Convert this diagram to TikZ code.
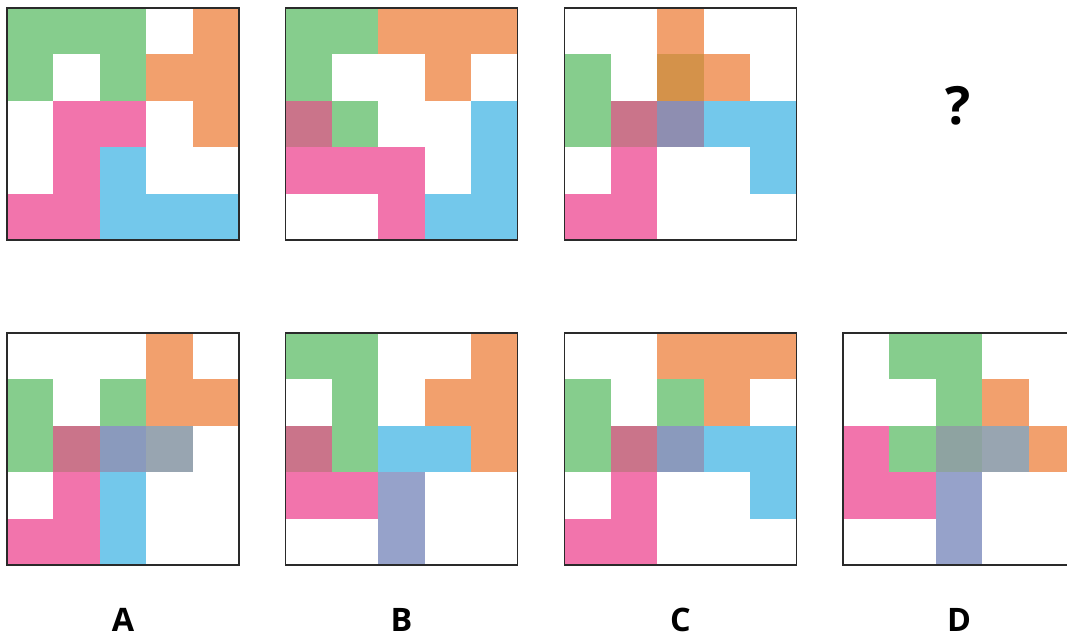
\documentclass[tikz,border=0pt]{standalone}
\usepackage{fontspec}
\setmainfont{Open Sans}
\usepackage{xcolor}
\usepackage{tikz}
\usetikzlibrary{positioning}
\definecolor{leaf}{HTML}{86CD8D}
\definecolor{peach}{HTML}{F2A06D}
\definecolor{rose}{HTML}{F274AC}
\definecolor{sky}{HTML}{73C8EB}
\definecolor{mauve}{HTML}{CA748A}
\definecolor{slate}{HTML}{8A9ABD}
\definecolor{steel}{HTML}{98A5B1}
\definecolor{lilac}{HTML}{96A2CA}
\definecolor{sage}{HTML}{8EA3A1}
\definecolor{amber}{HTML}{D4924A}
\definecolor{dusk}{HTML}{8E8EB1}
\definecolor{frameink}{HTML}{2A2A2A}

\newcommand{\tiles}[1]{%
  \foreach \rr/\cc/\tone in {#1}
    \fill[\tone] (\cc*\cs,-\rr*\cs) rectangle ++(\cs,-\cs);
  \draw[frame] (0,0) rectangle (5*\cs,-5*\cs);
}

\begin{document}
\begin{tikzpicture}[
    frame/.style={draw=frameink, line width=0.55pt},
    choice/.style={font=\fontsize{9.2}{11}\selectfont\bfseries, inner sep=0pt},
    query/.style={font=\fontsize{15}{18}\selectfont\bfseries, inner sep=0pt},
  ]
  \useasboundingbox[fill=white] (0,0) rectangle (10.67,-6.35);
  \def\cs{0.464}

  % question row
  \begin{scope}[shift={(0.07,-0.08)}]
    \tiles{0/0/leaf,0/1/leaf,0/2/leaf,0/4/peach,
      1/0/leaf,1/2/leaf,1/3/peach,1/4/peach,
      2/1/rose,2/2/rose,2/4/peach,
      3/1/rose,3/2/sky,
      4/0/rose,4/1/rose,4/2/sky,4/3/sky,4/4/sky}
  \end{scope}
  \begin{scope}[shift={(2.855,-0.08)}]
    \tiles{0/0/leaf,0/1/leaf,0/2/peach,0/3/peach,0/4/peach,
      1/0/leaf,1/3/peach,
      2/0/mauve,2/1/leaf,2/4/sky,
      3/0/rose,3/1/rose,3/2/rose,3/4/sky,
      4/2/rose,4/3/sky,4/4/sky}
  \end{scope}
  \begin{scope}[shift={(5.645,-0.08)}]
    \tiles{0/2/peach,
      1/0/leaf,1/2/amber,1/3/peach,
      2/0/leaf,2/1/mauve,2/2/dusk,2/3/sky,2/4/sky,
      3/1/rose,3/4/sky,
      4/0/rose,4/1/rose}
  \end{scope}
  \node[query] (ask) at (9.58,-1.06) {?};

  % answer row
  \begin{scope}[shift={(0.07,-3.33)}]
    \tiles{0/3/peach,
      1/0/leaf,1/2/leaf,1/3/peach,1/4/peach,
      2/0/leaf,2/1/mauve,2/2/slate,2/3/steel,
      3/1/rose,3/2/sky,
      4/0/rose,4/1/rose,4/2/sky}
  \end{scope}
  \begin{scope}[shift={(2.855,-3.33)}]
    \tiles{0/0/leaf,0/1/leaf,0/4/peach,
      1/1/leaf,1/3/peach,1/4/peach,
      2/0/mauve,2/1/leaf,2/2/sky,2/3/sky,2/4/peach,
      3/0/rose,3/1/rose,3/2/lilac,
      4/2/lilac}
  \end{scope}
  \begin{scope}[shift={(5.645,-3.33)}]
    \tiles{0/2/peach,0/3/peach,0/4/peach,
      1/0/leaf,1/2/leaf,1/3/peach,
      2/0/leaf,2/1/mauve,2/2/slate,2/3/sky,2/4/sky,
      3/1/rose,3/4/sky,
      4/0/rose,4/1/rose}
  \end{scope}
  \begin{scope}[shift={(8.43,-3.33)}]
    \tiles{0/1/leaf,0/2/leaf,
      1/2/leaf,1/3/peach,
      2/0/rose,2/1/leaf,2/2/sage,2/3/steel,2/4/peach,
      3/0/rose,3/1/rose,3/2/lilac,
      4/2/lilac}
  \end{scope}

  \node[choice] (optA) at (1.23,-6.20) {A};
  \node[choice] (optB) at (4.015,-6.20) {B};
  \node[choice] (optC) at (6.805,-6.20) {C};
  \node[choice] (optD) at (9.59,-6.20) {D};
\end{tikzpicture}
\end{document}
